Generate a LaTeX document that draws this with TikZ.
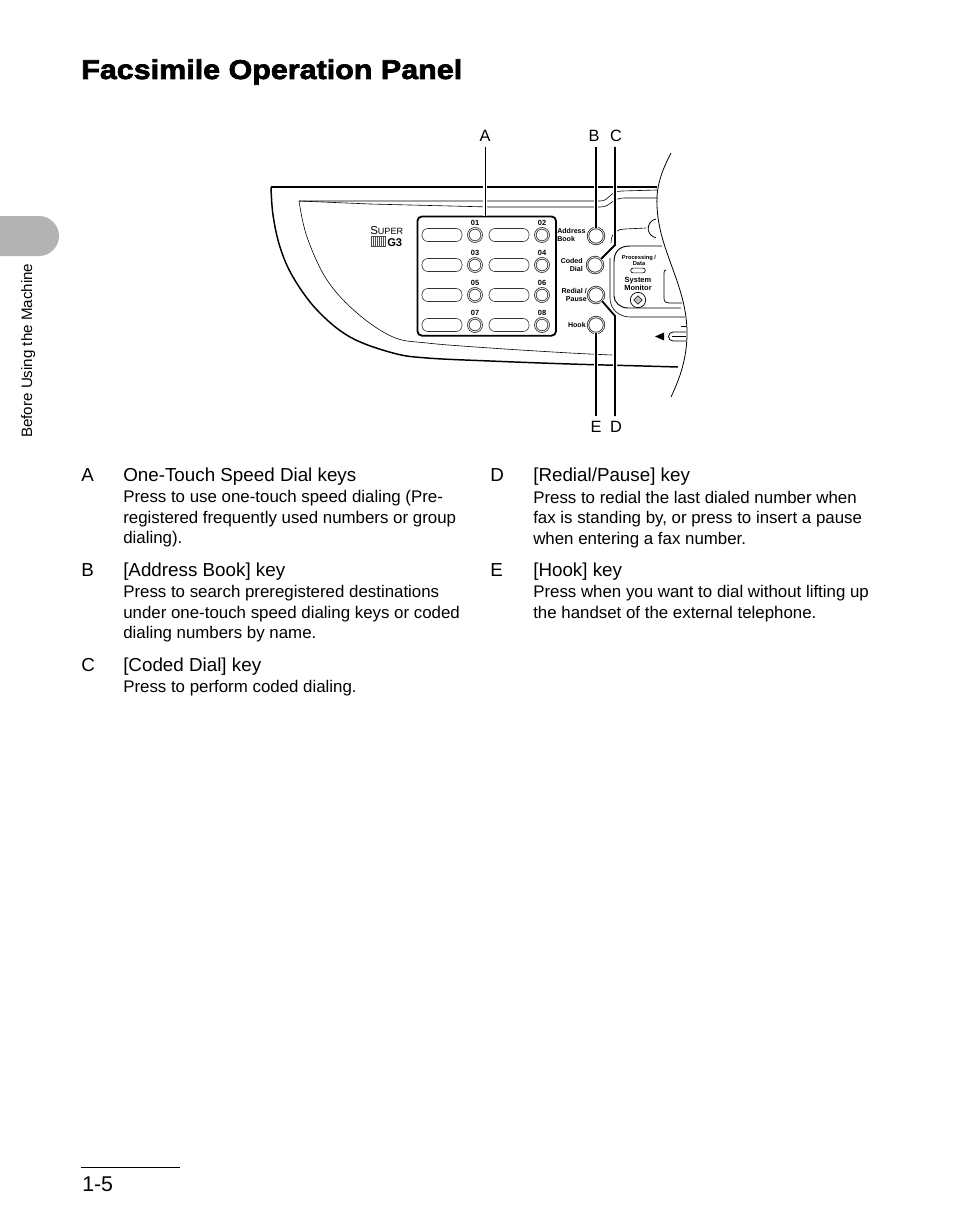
\documentclass[tikz,border=0pt]{standalone}
\usepackage{fontspec}
\setmainfont{Liberation Sans}
\newfontfamily\titlefont[FakeStretch=1.12,FakeBold=2.6]{Liberation Sans}
\usetikzlibrary{calc,shapes.geometric}
\definecolor{tabgray}{HTML}{B3B3B3}
\newcommand{\bodyline}[4]{\node[bodytext,anchor=base west] (#1) at (#2,#3) {#4};}
\newcommand{\headline}[4]{\node[headtext,anchor=base west] (#1) at (#2,#3) {#4};}
\tikzset{
  bodytext/.style={inner sep=0pt,font=\fontsize{12.65}{14}\selectfont},
  headtext/.style={inner sep=0pt,font=\fontsize{14.1}{16}\selectfont},
  calloutlabel/.style={inner sep=0pt,anchor=base,font=\fontsize{12.25}{14}\selectfont},
  keytext/.style={inner sep=0pt,font=\fontsize{5.3}{6}\selectfont\bfseries},
  numtext/.style={inner sep=0pt,font=\fontsize{5.6}{6}\selectfont\bfseries},
  paneloutline/.style={line width=1.1pt,black},
  thinline/.style={line width=0.45pt,black},
  speedkey/.style={circle,draw=black!80,line width=0.55pt,minimum size=10pt,inner sep=0pt,double=black!12,double distance=0.7pt,fill=white},
  sidekey/.style={circle,draw=black!85,line width=0.55pt,minimum size=12pt,inner sep=0pt,double=black!12,double distance=0.6pt,fill=white},
  slot/.style={draw=black!80,line width=0.45pt,rounded corners=4.5pt,minimum width=30pt,minimum height=9.8pt,inner sep=0pt},
  leaderthin/.style={line width=0.75pt,black,preaction={draw=white,line width=3pt}},
  leaderthick/.style={line width=1.35pt,black,preaction={draw=white,line width=3pt}},
}
\begin{document}
\begin{tikzpicture}[x=0.75pt,y=-0.75pt]
\useasboundingbox (0,0) rectangle (954,1227);
% chapter tab
\fill[tabgray] (0,216) -- (39,216) arc[start angle=-90,end angle=90,radius=20] -- (0,256) -- cycle;
\node[inner sep=0pt,rotate=90,anchor=base west,font=\fontsize{11.35}{13}\selectfont] (tabtext) at (32,438) {Before Using the Machine};
% title
\node[inner sep=0pt,anchor=base west,font=\titlefont\fontsize{20.4}{24}\selectfont\bfseries] (title) at (81,79) {Facsimile Operation Panel};
% panel outline
\draw[paneloutline] (657,187) -- (271,187);
\draw[paneloutline] plot[smooth,tension=0.6] coordinates {(271,187) (273,215) (280,247) (293,277) (317,310) (350,337) (393,353) (427,358) (490,361) (570,364) (643,366) (678,367)};
\draw[thinline] plot[smooth,tension=0.6] coordinates {(299,201) (307,237) (327,280) (357,313) (393,337) (427,343) (490,348) (570,353) (612,355)};
\draw[thinline] (299,201) -- (600,201) .. controls (610,201) and (609,191) .. (622,191) -- (657,190);
\draw[thinline] (299,201) -- (370,204) -- (490,207) -- (600,207) .. controls (612,207) and (610,198) .. (625,198) -- (658,198);
% cut edge of drawing
\draw[line width=0.6pt,black] (671,153) .. controls (661,172) and (656,188) .. (657,205) .. controls (658,250) and (687,285) .. (687,333) .. controls (687,358) and (680,378) .. (671,397);
% right part of panel
\draw[line width=0.6pt,black] (656,219) arc[start angle=-100,end angle=-260,radius=9.5];
\draw[thinline] (611,243) .. controls (611,232) and (618,229) .. (625,229) -- (646,228);
\draw[line width=0.7pt,black] (662,246) -- (630,246) .. controls (619,246) and (614,252) .. (614,262) -- (614,296) .. controls (614,302) and (620,308) .. (628,308) -- (681,308);
\draw[thinline] (610,258) -- (610,298) .. controls (610,310) and (620,317) .. (630,317) -- (685,317);
\draw[line width=0.55pt,black] (666,270) .. controls (664.5,270) and (664,271) .. (664,273) -- (664,298) .. controls (664,302) and (666,303) .. (669,303) -- (682,303);
\node[keytext,font=\fontsize{4.3}{5}\selectfont\bfseries] (procA) at (639,258) {Processing /};
\node[keytext,font=\fontsize{4.3}{5}\selectfont\bfseries] (procB) at (639,264) {Data};
\node[draw=black,line width=0.5pt,rounded corners=1.8pt,minimum width=11pt,minimum height=3.6pt,inner sep=0pt] (procled) at (638,270.5) {};
\node[keytext,font=\fontsize{5.6}{6}\selectfont\bfseries] (sysA) at (638,281) {System};
\node[keytext,font=\fontsize{5.6}{6}\selectfont\bfseries] (sysB) at (638,288) {Monitor};
\node[circle,draw=black,line width=0.55pt,minimum size=11.5pt,inner sep=0pt] (sysbtn) at (638,300) {};
\node[diamond,draw=black,line width=0.4pt,fill=black!25,minimum size=6.5pt,inner sep=0pt,shape aspect=1] (sysdia) at (638,300) {};
\fill[black] (655,336.5) -- (664,332.5) -- (664,340.5) -- cycle;
\draw[line width=0.6pt,black] (686,332) -- (673,332) arc[start angle=-90,end angle=-270,radius=4.5] -- (686,341);
\draw[thinline] (672,336) -- (686,336);
\draw[thinline] (681,326) -- (686,326);
% logo
\node[inner sep=0pt,anchor=base west,font=\fontsize{8.6}{9}\selectfont] (logoS) at (370,234) {S\fontsize{6.8}{9}\selectfont UPER};
\node[inner sep=0pt,anchor=base west,font=\fontsize{8.4}{9}\selectfont\bfseries] (logoG) at (387,246) {G3};
\foreach \x in {371,373,375,377,379,381,383,385} {\draw[line width=0.35pt,black!70] (\x,236) -- (\x,246);}
\draw[line width=0.35pt,black!70] (371,236) -- (386,236) (371,246) -- (386,246);
% one-touch box
\node[draw=black,line width=1.35pt,rounded corners=3.5pt,minimum width=104pt,minimum height=89.5pt,inner sep=0pt,anchor=north west] (box) at (416.5,215.5) {};
\foreach \n/\ya/\yb/\a/\b in {1/235/223/01/02,2/265/253/03/04,3/295/283/05/06,4/325/313/07/08}{
  \node[slot] (slotl\n) at (442,\ya) {};
  \node[slot] (slotr\n) at (509,\ya) {};
  \node[speedkey] (keyl\n) at (475,\ya) {};
  \node[speedkey] (keyr\n) at (542,\ya) {};
  \node[numtext] (numl\n) at (475,\yb) {\a};
  \node[numtext] (numr\n) at (542,\yb) {\b};
}
% side keys
\node[sidekey] (keyB) at (596,236) {};
\node[sidekey] (keyC) at (595,265) {};
\node[sidekey] (keyD) at (596,295) {};
\node[sidekey] (keyE) at (596,325) {};
\node[keytext,anchor=west] (addrA) at (557,231) {Address};
\node[keytext,anchor=west] (addrB) at (557,239) {Book};
\node[keytext,anchor=east] (codedA) at (583,261) {Coded};
\node[keytext,anchor=east] (codedB) at (583,269) {Dial};
\node[keytext,anchor=east] (redialA) at (587,291) {Redial /};
\node[keytext,anchor=east] (redialB) at (587,299) {Pause};
\node[keytext,anchor=east] (hook) at (586,325) {Hook};
% callout labels
\node[calloutlabel] (labA) at (485,141.5) {A};
\node[calloutlabel] (labB) at (594,141.5) {B};
\node[calloutlabel] (labC) at (616,141.5) {C};
\node[calloutlabel] (labE) at (596,432.5) {E};
\node[calloutlabel] (labD) at (616,432.5) {D};
% leaders
\coordinate (topA) at (485,147);
\coordinate (topB) at (596,147);
\coordinate (topC) at (615,147);
\coordinate (bendC) at (615,245);
\coordinate (botD) at (615,416);
\coordinate (bendD) at (615,316);
\coordinate (botE) at (596,416);
\draw[leaderthin] (topA) -- (box.north -| topA);
\draw[leaderthick] (topB) -- (keyB.north);
\draw[leaderthick] (topC) -- (bendC) -- (keyC.45);
\draw[leaderthick] (botD) -- (bendD) -- (keyD.-45);
\draw[leaderthick] (botE) -- (keyE.south);
% left column
\headline{hA}{81}{481}{A}
\headline{tA}{123}{481}{One-Touch Speed Dial keys}
\bodyline{a1}{123}{502}{Press to use one-touch speed dialing (Pre-}
\bodyline{a2}{123}{523}{registered frequently used numbers or group}
\bodyline{a3}{123}{543}{dialing).}
\headline{hB}{81}{576}{B}
\headline{tB}{123}{576}{[Address Book] key}
\bodyline{b1}{123}{597}{Press to search preregistered destinations}
\bodyline{b2}{123}{618}{under one-touch speed dialing keys or coded}
\bodyline{b3}{123}{638}{dialing numbers by name.}
\headline{hC}{81}{671}{C}
\headline{tC}{123}{671}{[Coded Dial] key}
\bodyline{c1}{123}{692}{Press to perform coded dialing.}
% right column
\headline{hD}{490}{481}{D}
\headline{tD}{533}{481}{[Redial/Pause] key}
\bodyline{d1}{533}{503}{Press to redial the last dialed number when}
\bodyline{d2}{533}{523}{fax is standing by, or press to insert a pause}
\bodyline{d3}{533}{544}{when entering a fax number.}
\headline{hE}{490}{576}{E}
\headline{tE}{533}{576}{[Hook] key}
\bodyline{e1}{533}{597}{Press when you want to dial without lifting up}
\bodyline{e2}{533}{618}{the handset of the external telephone.}
% folio
\coordinate (ruleL) at (81,1167);
\coordinate (ruleR) at (180,1167);
\draw[line width=0.75pt] (ruleL) -- (ruleR);
\node[inner sep=0pt,anchor=base west,font=\fontsize{16}{18}\selectfont] (folio) at (82,1191) {1-5};
\end{tikzpicture}
\end{document}
